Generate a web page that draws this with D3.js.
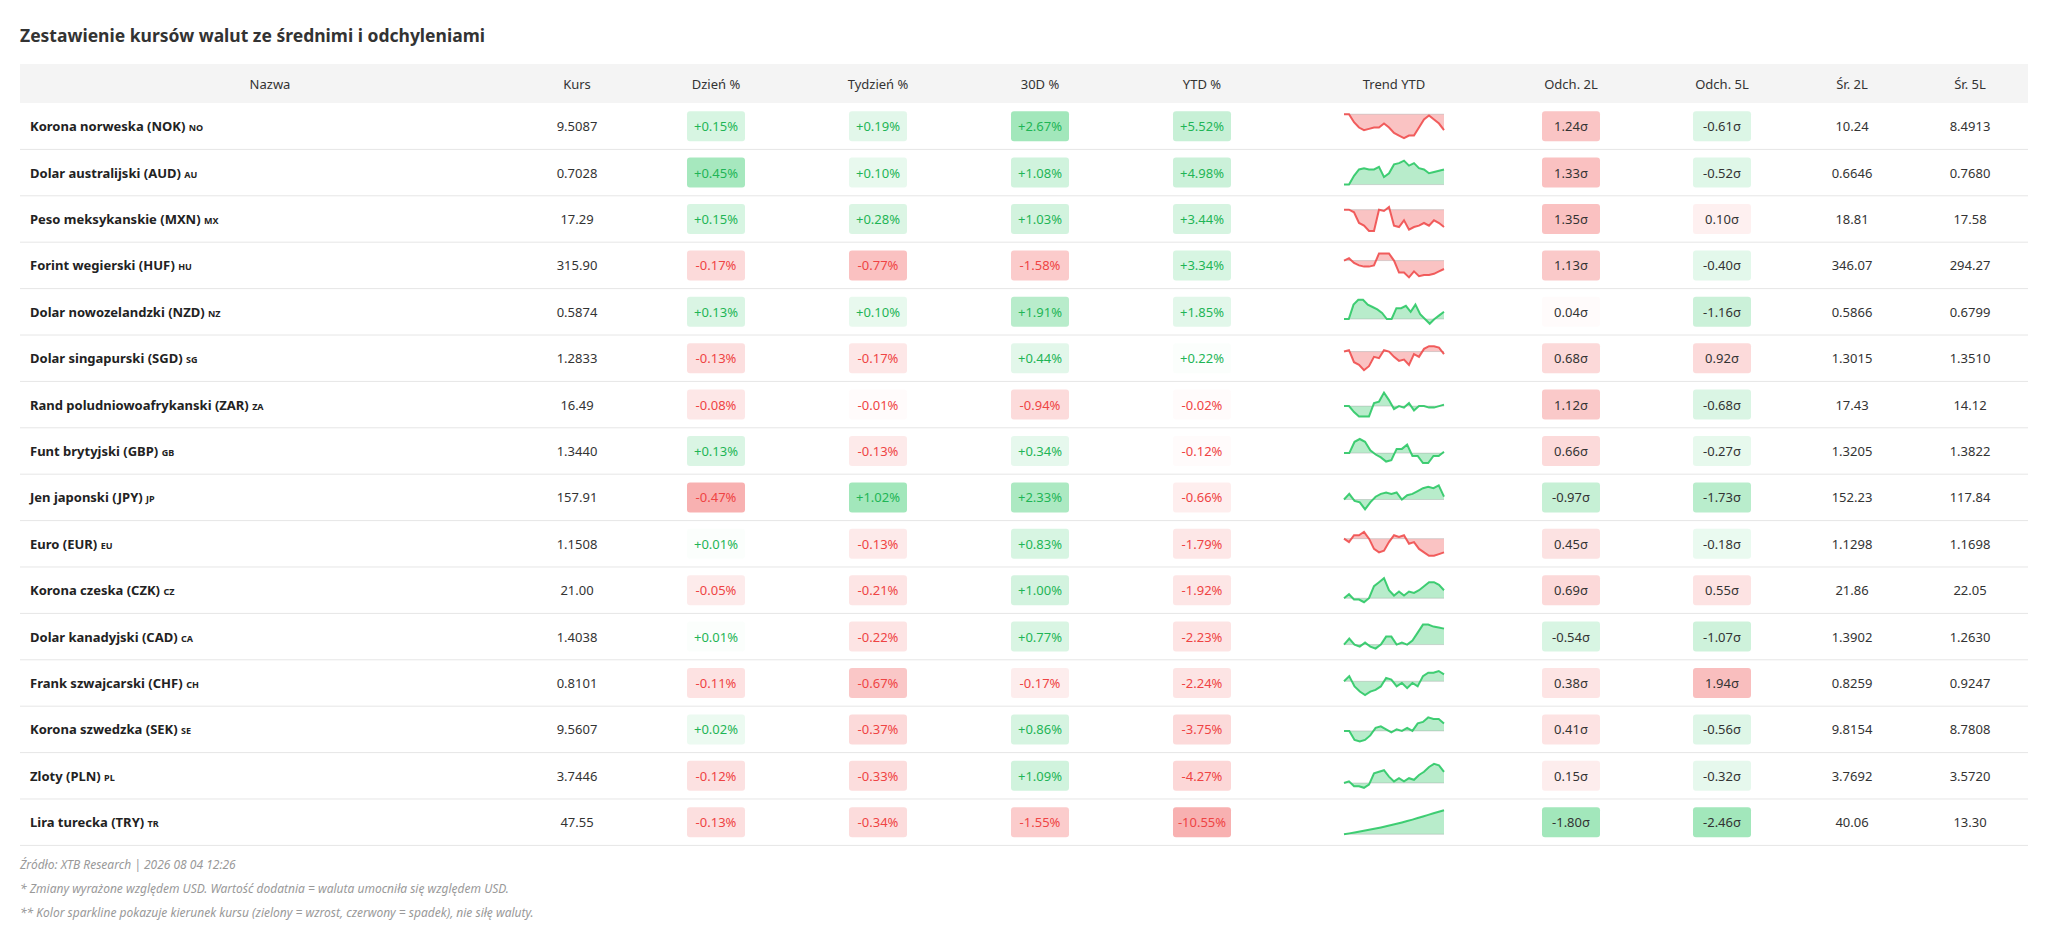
<!DOCTYPE html>
<html><head><meta charset="utf-8">
<script src="https://cdn.jsdelivr.net/npm/d3@7"></script>
<style>body{margin:0;background:#fff;font-family:"Noto Sans",sans-serif;}</style>
</head><body>
<script>
const W = 2048, H = 943;
const names = ['Korona norweska (NOK)','Dolar australijski (AUD)','Peso meksykanskie (MXN)','Forint wegierski (HUF)','Dolar nowozelandzki (NZD)','Dolar singapurski (SGD)','Rand poludniowoafrykanski (ZAR)','Funt brytyjski (GBP)','Jen japonski (JPY)','Euro (EUR)','Korona czeska (CZK)','Dolar kanadyjski (CAD)','Frank szwajcarski (CHF)','Korona szwedzka (SEK)','Zloty (PLN)','Lira turecka (TRY)'];
const codes = ['NO','AU','MX','HU','NZ','SG','ZA','GB','JP','EU','CZ','CA','CH','SE','PL','TR'];
const kurs = ['9.5087','0.7028','17.29','315.90','0.5874','1.2833','16.49','1.3440','157.91','1.1508','21.00','1.4038','0.8101','9.5607','3.7446','47.55'];
const day = [0.15,0.45,0.15,-0.17,0.13,-0.13,-0.08,0.13,-0.47,0.01,-0.05,0.01,-0.11,0.02,-0.12,-0.13];
const week = [0.19,0.10,0.28,-0.77,0.10,-0.17,-0.01,-0.13,1.02,-0.13,-0.21,-0.22,-0.67,-0.37,-0.33,-0.34];
const d30 = [2.67,1.08,1.03,-1.58,1.91,0.44,-0.94,0.34,2.33,0.83,1.00,0.77,-0.17,0.86,1.09,-1.55];
const ytd = [5.52,4.98,3.44,3.34,1.85,0.22,-0.02,-0.12,-0.66,-1.79,-1.92,-2.23,-2.24,-3.75,-4.27,-10.55];
const dev2 = [1.24,1.33,1.35,1.13,0.04,0.68,1.12,0.66,-0.97,0.45,0.69,-0.54,0.38,0.41,0.15,-1.80];
const dev5 = [-0.61,-0.52,0.10,-0.40,-1.16,0.92,-0.68,-0.27,-1.73,-0.18,0.55,-1.07,1.94,-0.56,-0.32,-2.46];
const avg2 = ['10.24','0.6646','18.81','346.07','0.5866','1.3015','17.43','1.3205','152.23','1.1298','21.86','1.3902','0.8259','9.8154','3.7692','40.06'];
const avg5 = ['8.4913','0.7680','17.58','294.27','0.6799','1.3510','14.12','1.3822','117.84','1.1698','22.05','1.2630','0.9247','8.7808','3.5720','13.30'];
const trend = [
 [0,0,-3,-5,-6,-5.5,-5,-5,-3.5,-5,-7,-8,-9,-8,-8,-5,-2,-0.5,-2,-3.5,-6],
 [0,0,3.5,6,6.5,6,6,7,3,4.5,8,8.5,9.5,7.5,8.5,6.5,6,4.5,5,5.5,6],
 [0,0,-1,-5,-6,-8,-8,0,-0.5,1,-6,-6.5,-4,-7.5,-6.5,-6,-5,-6,-4,-5,-6.5],
 [0,1,-1,-2,-2.5,-2.5,-2,3,3,3,0,-5,-5,-7,-4.5,-6.5,-6,-6,-5.5,-4.5,-3.5],
 [0,0,6,8,8,6,5,4,2.5,0,0,4.5,4.5,5.5,3,6,2,0,-2,0,1.5,3],
 [0,0.5,-4,-5,-7,-5.5,-2,-2.5,0.5,0,-2,-3.5,-3,-5,-1,-2,1,2,2,1.5,-1],
 [0,0,-2,-3.5,-3.5,-3.5,1,1.5,4.5,2,-1,0,-0.5,1,-1.5,0,0,-0.5,-0.5,0,0.5],
 [0,0,4,5,4,1,-0.5,-1.5,-3,-2.5,1.5,1.5,3,-1,-1,-3.5,-3.5,-1,-1,0.5],
 [0,2,-0.5,-1,-3.5,-1,1,2,2.5,2,2.5,0,1.5,2,3,4,4.5,4,5,1],
 [0,-1,1,1,2,0,-3,-4,-3.5,-1,1,0.5,1,-1.5,-1,-3,-4,-5,-5,-4.5,-4],
 [0,1.5,-0.5,-0.5,-1.5,0,4.5,6,7.5,3,1,2.5,1,2.5,2,3,4.5,6,6,5,3],
 [0,1.5,0,-0.5,0.5,-0.5,-1,0,2,2,0,0.5,0,1,3,5,5,4.5,4.3,4],
 [0,1.5,-1.5,-3,-4,-3,-2.5,-1.5,1,0.5,-1.5,-0.5,-2,-0.5,-1.5,1.5,2.5,2.5,3,2],
 [0,0,-3,-3.5,-3,-1.5,1,1.5,0.5,-0.5,0.5,0,1,0,2.5,3,4.5,4,4,2.5],
 [0,0.5,-1,-1,-1.5,-0.5,3,3.5,4,2,0.5,1.5,0.5,1.5,1,2.5,3.5,5,6,5.5,3.5],
 [0,0.8,1.7,2.6,3.5,4.4,5.4,6.5,7.6,8.8,10,11.3,12.6,14,15.5,17,18.5,20,21.5,23]
];
const headers = ['Nazwa','Kurs','Dzień %','Tydzień %','30D %','YTD %','Trend YTD','Odch. 2L','Odch. 5L','Śr. 2L','Śr. 5L'];
const colX = [270,577,716,878,1040,1202,1394,1571,1722,1852,1970];

const GREEN = [34,197,94], RED = [239,68,68];
const rgba = (c,a) => `rgba(${c[0]},${c[1]},${c[2]},${a})`;
const x0 = 20, x1 = 2028, headTop = 64, headH = 39, rowH = 46.4;

const svg = d3.select('body').append('svg').attr('width', W).attr('height', H);
svg.append('text').attr('x', 20).attr('y', 42).text('Zestawienie kursów walut ze średnimi i odchyleniami')
  .attr('font-size', 17.5).attr('font-weight', 700).attr('fill', '#333');

svg.append('rect').attr('x', x0).attr('y', headTop).attr('width', x1 - x0).attr('height', headH).attr('fill', '#f4f4f4');
svg.selectAll('.hd').data(headers).enter().append('text')
  .attr('x', (d, i) => colX[i]).attr('y', headTop + headH / 2 + 5).attr('text-anchor', 'middle')
  .attr('font-size', 13).attr('fill', '#333').text(d => d);

const y = d3.scaleLinear().domain([0, names.length]).range([headTop + headH, headTop + headH + rowH * names.length]);

const rows = svg.selectAll('.row').data(names).enter().append('g')
  .attr('transform', (d, i) => `translate(0,${y(i)})`);
rows.append('line').attr('x1', x0).attr('x2', x1).attr('y1', rowH).attr('y2', rowH).attr('stroke', '#e6e6e6');
const cy = rowH / 2 + 5;
const nm = rows.append('text').attr('x', 30).attr('y', cy).attr('font-size', 13).attr('font-weight', 700).attr('fill', '#222');
nm.append('tspan').text(d => d + ' ');
nm.append('tspan').attr('font-size', 9).text((d, i) => codes[i]);

function plain(arr, ci) {
  rows.append('text').attr('x', colX[ci]).attr('y', cy).attr('text-anchor', 'middle')
    .attr('font-size', 13).attr('fill', '#333').text((d, i) => arr[i]);
}
plain(kurs, 1); plain(avg2, 9); plain(avg5, 10);

function badge(arr, ci, fmt, sigma) {
  const mx = d3.max(arr, v => Math.abs(v));
  const g = rows.append('g').attr('transform', `translate(${colX[ci]},0)`);
  const good = v => sigma ? v < 0 : v >= 0;
  const alpha = v => { const r = Math.abs(v) / mx; return r < 0.04 ? 0.02 : 0.07 + 0.35 * r; };
  g.append('rect').attr('x', -29).attr('y', rowH / 2 - 15).attr('width', 58).attr('height', 30).attr('rx', 3)
    .attr('fill', (d, i) => rgba(good(arr[i]) ? GREEN : RED, alpha(arr[i])));
  g.append('text').attr('y', cy).attr('text-anchor', 'middle').attr('font-size', 13)
    .attr('fill', (d, i) => sigma ? '#333' : (arr[i] >= 0 ? '#1fb556' : '#ef4444'))
    .text((d, i) => fmt(arr[i]));
}
const pct = v => (v >= 0 ? '+' : '') + v.toFixed(2) + '%';
const sig = v => v.toFixed(2) + 'σ';
badge(day, 2, pct); badge(week, 3, pct); badge(d30, 4, pct); badge(ytd, 5, pct);
badge(dev2, 7, sig, true); badge(dev5, 8, sig, true);

// sparklines
const sw = 100, sh = 24;
rows.each(function (d, i) {
  const data = trend[i];
  const sx = d3.scaleLinear().domain([0, data.length - 1]).range([colX[6] - 50, colX[6] - 50 + sw]);
  const sy = d3.scaleLinear().domain(d3.extent(data)).range([rowH / 2 + sh / 2, rowH / 2 - sh / 2]);
  const up = data[data.length - 1] >= data[0];
  const c = up ? GREEN : RED;
  const g = d3.select(this);
  g.append('path').datum(data)
    .attr('d', d3.area().x((v, k) => sx(k)).y0(sy(data[0])).y1(v => sy(v)))
    .attr('fill', rgba(c, 0.32));
  g.append('line').attr('x1', sx(0)).attr('x2', sx(data.length - 1)).attr('y1', sy(data[0])).attr('y2', sy(data[0]))
    .attr('stroke', 'rgba(150,150,150,0.35)').attr('stroke-width', 1);
  g.append('path').datum(data)
    .attr('d', d3.line().x((v, k) => sx(k)).y(v => sy(v)))
    .attr('fill', 'none').attr('stroke', rgba(c, 0.85)).attr('stroke-width', 2);
});

const notes = ['Źródło: XTB Research | 2026 08 04 12:26',
  '* Zmiany wyrażone względem USD. Wartość dodatnia = waluta umocniła się względem USD.',
  '** Kolor sparkline pokazuje kierunek kursu (zielony = wzrost, czerwony = spadek), nie siłę waluty.'];
svg.selectAll('.note').data(notes).enter().append('text')
  .attr('x', 20).attr('y', (d, i) => 869 + i * 24).attr('font-size', 12).attr('font-style', 'italic')
  .attr('fill', '#999').text(d => d);
</script>
</body></html>
